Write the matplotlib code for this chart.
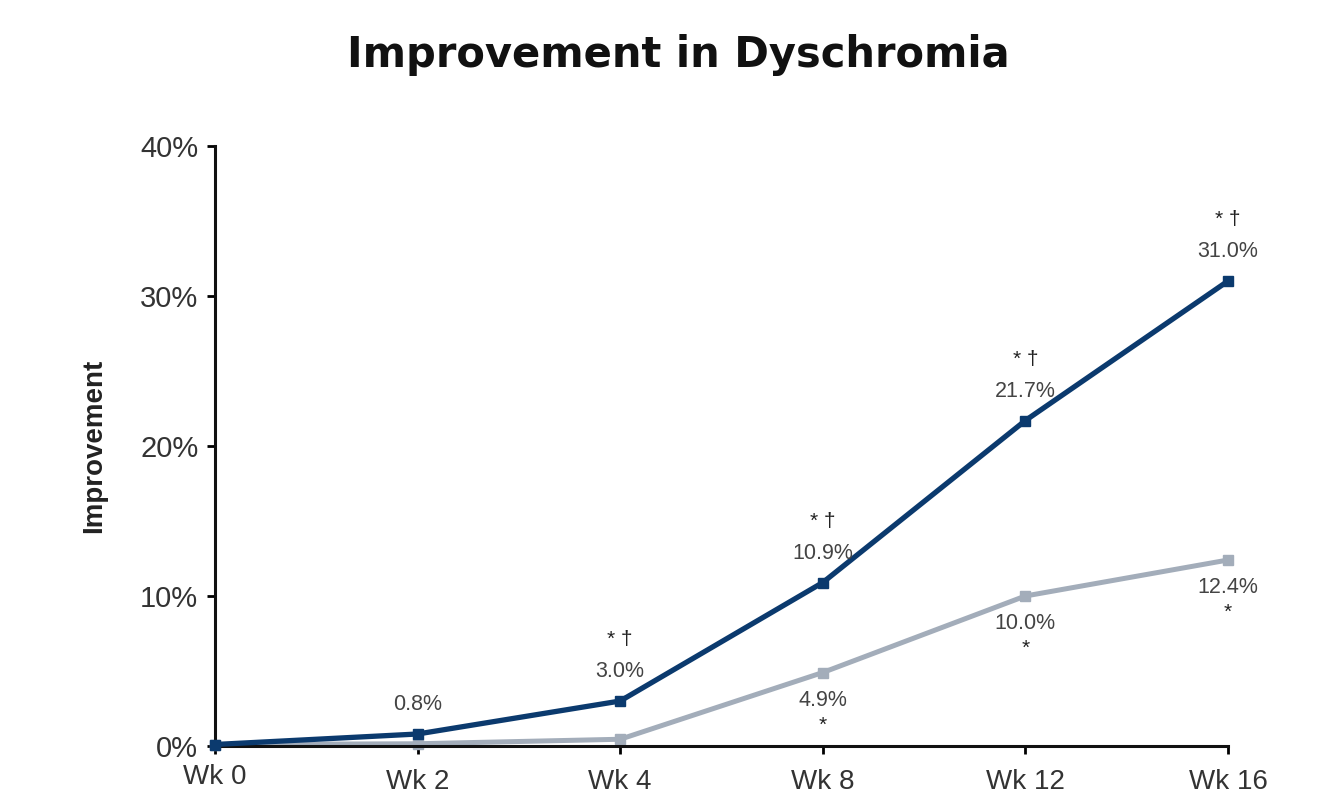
import matplotlib
matplotlib.use("Agg")
import matplotlib.pyplot as plt
import matplotlib.transforms as mtransforms

plt.rcParams['font.family'] = ['Liberation Sans', 'DejaVu Sans']

weeks = ["Wk 0", "Wk 2", "Wk 4", "Wk 8", "Wk 12", "Wk 16"]
treated = [0.1, 0.8, 3.0, 10.9, 21.7, 31.0]
control = [0.1, 0.15, 0.45, 4.9, 10.0, 12.4]
treated_labels = ["", "0.8%", "3.0%", "10.9%", "21.7%", "31.0%"]
treated_sig = ["", "", "* †", "* †", "* †", "* †"]
control_labels = ["", "", "", "4.9%", "10.0%", "12.4%"]
control_sig = ["", "", "", "*", "*", "*"]
yticks = [0, 10, 20, 30, 40]
ytick_labels = ["0%", "10%", "20%", "30%", "40%"]

dark = "#0b3a6e"
light = "#a3adba"
txt = "#444444"

fig = plt.figure(figsize=(13.4, 7.96), dpi=100)
ax = fig.add_axes([215/1340, 1-746/796, (1228-215)/1340, 600/796])

x = list(range(len(weeks)))
ax.plot(x, control, color=light, lw=3.6, marker="s", ms=7, zorder=2, clip_on=False)
ax.plot(x, treated, color=dark, lw=3.8, marker="s", ms=7, zorder=3, clip_on=False)

for i in x:
    if treated_labels[i]:
        ax.annotate(treated_labels[i], (i, treated[i]), xytext=(0, 21),
                    textcoords="offset points", ha="center", va="center",
                    fontsize=15.5, color=txt)
    if treated_sig[i]:
        ax.annotate(treated_sig[i], (i, treated[i]), xytext=(0, 44),
                    textcoords="offset points", ha="center", va="center",
                    fontsize=15, color="#222222")
    if control_labels[i]:
        ax.annotate(control_labels[i], (i, control[i]), xytext=(0, -20),
                    textcoords="offset points", ha="center", va="center",
                    fontsize=15.5, color=txt)
    if control_sig[i]:
        ax.annotate(control_sig[i], (i, control[i]), xytext=(0, -38),
                    textcoords="offset points", ha="center", va="center",
                    fontsize=15, color="#222222")

ax.set_xlim(0, len(weeks) - 1)
ax.set_ylim(0, 40)
ax.set_yticks(yticks)
ax.set_yticklabels(ytick_labels, fontsize=21, color="#333333")
ax.set_xticks(x)
ax.set_xticklabels([])
ax.tick_params(axis="y", direction="out", length=6, width=2, pad=6)
ax.tick_params(axis="x", direction="out", length=6, width=2)
for s in ["top", "right"]:
    ax.spines[s].set_visible(False)
for s in ["left", "bottom"]:
    ax.spines[s].set_linewidth(2.2)
    ax.spines[s].set_color("#111111")

trans = mtransforms.blended_transform_factory(ax.transData, fig.transFigure)
for i, w in enumerate(weeks):
    ypix = 777 if i == 0 else 782
    ax.text(i, 1 - ypix/796, w, transform=trans, ha="center", va="center",
            fontsize=20, color="#333333", clip_on=False)

ax.set_ylabel("Improvement", fontsize=20, fontweight="bold", color="#222222", labelpad=24)
fig.text(678/1340, 1-55/796, "Improvement in Dyschromia", ha="center", va="center",
         fontsize=30, fontweight="bold", color="#111111", family="DejaVu Sans")

fig.savefig("out.png", dpi=100, facecolor="white")
